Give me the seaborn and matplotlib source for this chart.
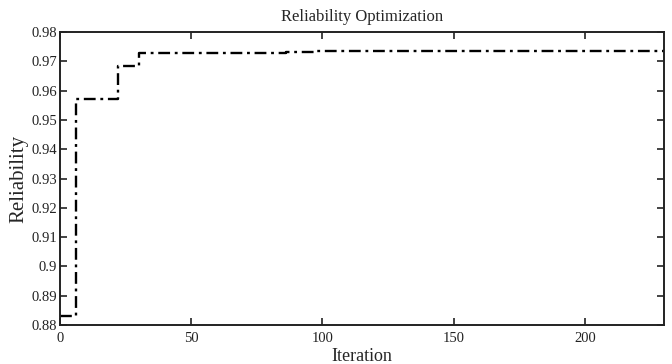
import matplotlib
matplotlib.use("Agg")
import matplotlib.pyplot as plt
import seaborn as sns
import pandas as pd

iterations = [0, 6, 22, 30, 86, 97, 230]
reliability = [0.883, 0.957, 0.9685, 0.9728, 0.9732, 0.9735, 0.9735]
x_ticks = [0, 50, 100, 150, 200]
y_ticks = [0.88, 0.89, 0.90, 0.91, 0.92, 0.93, 0.94, 0.95, 0.96, 0.97, 0.98]
y_tick_labels = ["0.88", "0.89", "0.9", "0.91", "0.92", "0.93", "0.94", "0.95", "0.96", "0.97", "0.98"]

sns.set_style("ticks")
plt.rcParams['font.family'] = ['Liberation Serif', 'DejaVu Serif']

df = pd.DataFrame({"Iteration": iterations, "Reliability": reliability})

fig = plt.figure(figsize=(6.72, 3.64), dpi=100)
ax = fig.add_axes([0.089, 0.107, 0.899, 0.805])
sns.lineplot(data=df, x="Iteration", y="Reliability", ax=ax, color="black",
             linestyle=(0, (5, 2, 1.2, 2)), linewidth=1.7, drawstyle="steps-post")

ax.set_xlim(0, 230)
ax.set_ylim(0.88, 0.98)
ax.set_xticks(x_ticks)
ax.set_yticks(y_ticks)
ax.set_yticklabels(y_tick_labels)
ax.tick_params(direction="in", top=True, right=True, length=5, width=1.2,
               labelsize=10.5, colors="#222222", pad=2)
ax.tick_params(axis="x", pad=5)
for s in ax.spines.values():
    s.set_visible(True)
    s.set_linewidth(1.4)
    s.set_color("#222222")
ax.set_title("Reliability Optimization", fontsize=12, pad=8)
ax.set_xlabel("Iteration", fontsize=13, labelpad=2)
ax.set_ylabel("Reliability", fontsize=15, labelpad=2)

fig.savefig("out.png", dpi=100)
